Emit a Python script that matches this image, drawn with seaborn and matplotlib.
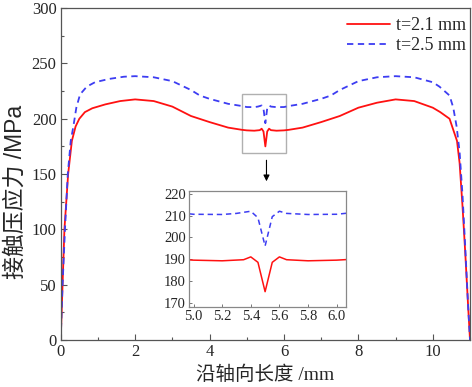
import numpy as np
import pandas as pd
import seaborn as sns
import matplotlib.pyplot as plt
from matplotlib.patches import Rectangle
from matplotlib.ticker import MultipleLocator, FormatStrFormatter

# t=2.1 mm curve
x_21 = [0, 0.05, 0.1, 0.2, 0.3, 0.4, 0.5, 0.65, 0.85, 1.2, 1.6, 2.0, 2.5, 3.0, 3.5, 4.0, 4.5,
        4.87, 5.0, 5.2, 5.35, 5.4, 5.45, 5.5, 5.55, 5.6, 5.65, 5.8, 6.0, 6.13, 6.5, 7.0, 7.5,
        8.0, 8.5, 9.0, 9.5, 10.0, 10.2, 10.45, 10.55, 10.65, 10.72, 10.8, 10.87, 10.95, 11.0]
y_21 = [0, 50, 100, 150, 180, 193, 200, 206, 209.5, 213, 216, 217.5, 216, 211, 202.5, 197, 192,
        190, 189.5, 189.2, 189.7, 191, 188.5, 175, 188.5, 191, 189.7, 189.2, 189.5, 190, 192, 197, 202.5,
        210, 214.5, 217.5, 216, 210, 206, 200, 190, 180, 160, 120, 80, 30, 0]

# t=2.5 mm curve
x_25 = [0, 0.05, 0.115, 0.19, 0.27, 0.34, 0.42, 0.52, 0.7, 0.92, 1.3, 1.7, 2.0, 2.5, 3.0, 3.5,
        3.74, 4.0, 4.5, 4.87, 5.0, 5.2, 5.3, 5.4, 5.45, 5.5, 5.55, 5.6, 5.65, 5.8, 6.0, 6.13,
        6.5, 7.0, 7.26, 7.5, 8.0, 8.5, 9.0, 9.5, 10.0, 10.18, 10.45, 10.55, 10.64, 10.72, 10.8,
        10.87, 10.95, 11.0]
y_25 = [0, 50, 100, 150, 180, 193, 210, 222, 229, 233, 236, 238, 238.5, 237.5, 234, 226,
        221, 218, 213.5, 211.5, 210.6, 210.5, 211, 212, 209, 196, 209.5, 212, 211, 210.5, 210.6, 211.5,
        213.5, 218, 221, 226, 234, 237.5, 238.5, 237.5, 233, 229, 221, 210, 193, 170, 130,
        85, 30, 0]

labels = ["t=2.1 mm", "t=2.5 mm"]
red = "#ff1111"
blue = "#3d3df2"

sns.set_style("ticks")
plt.rcParams['font.family'] = ['Liberation Serif', 'Noto Sans CJK SC']
plt.rcParams['axes.edgecolor'] = '#555555'
plt.rcParams['xtick.direction'] = 'in'
plt.rcParams['ytick.direction'] = 'in'

df21 = pd.DataFrame({"x": x_21, "y": y_21})
df25 = pd.DataFrame({"x": x_25, "y": y_25})

fig = plt.figure(figsize=(4.72, 3.87), dpi=100)
ax = fig.add_axes([0.1286, 0.1214, 0.8672, 0.8576])

sns.lineplot(data=df21, x="x", y="y", ax=ax, color=red, lw=1.3, label=labels[0])
sns.lineplot(data=df25, x="x", y="y", ax=ax, color=blue, lw=1.3, ls=(0, (3.5, 2.5)),
             label=labels[1])

ax.set_xlim(0, 11)
ax.set_ylim(0, 300)
ax.xaxis.set_major_locator(MultipleLocator(2))
ax.xaxis.set_minor_locator(MultipleLocator(1))
ax.yaxis.set_major_locator(MultipleLocator(50))
ax.yaxis.set_minor_locator(MultipleLocator(25))
ax.tick_params(which='major', length=4, width=0.8, color='#555555', labelsize=12, pad=3)
ax.tick_params(which='minor', length=2.5, width=0.8, color='#555555')
ax.tick_params(top=False, right=False, which='both')
for s in ax.spines.values():
    s.set_linewidth(0.9)

ax.set_xlabel("沿轴向长度 /mm", fontsize=14, labelpad=4)
ax.set_ylabel("接触压应力 /MPa", fontsize=16.5,
              family=['Liberation Sans', 'Noto Sans CJK SC'])
ax.yaxis.set_label_coords(-0.084, 0.446)

leg = ax.legend(loc='upper right', frameon=False, fontsize=13, handlelength=2.4,
                handletextpad=0.3, labelspacing=0.15, borderaxespad=0.1,
                bbox_to_anchor=(1.012, 1.0))

# zoom box and arrow
ax.add_patch(Rectangle((4.87, 169), 1.18, 53, fill=False, ec='#b0b0b0', lw=1.0))
ax.annotate("", xy=(5.53, 141), xytext=(5.53, 165),
            arrowprops=dict(arrowstyle='-|>', color='black', lw=0.8, mutation_scale=9))

# inset
axin = fig.add_axes([0.400, 0.207, 0.333, 0.300])
sns.lineplot(data=df21, x="x", y="y", ax=axin, color=red, lw=1.1, legend=False)
sns.lineplot(data=df25, x="x", y="y", ax=axin, color=blue, lw=1.1, ls=(0, (3.5, 2.5)),
             legend=False)
axin.set_xlim(4.967, 6.065)
axin.set_ylim(168, 221.4)
axin.xaxis.set_major_locator(MultipleLocator(0.2))
axin.xaxis.set_major_formatter(FormatStrFormatter('%.1f'))
axin.yaxis.set_major_locator(MultipleLocator(10))
axin.tick_params(labelsize=10.5, length=2.5, width=0.7, color='#777777', pad=2)
axin.set_xlabel("")
axin.set_ylabel("")
for s in axin.spines.values():
    s.set_color('#888888')
    s.set_linewidth(0.9)

fig.savefig("out.png", dpi=100)
